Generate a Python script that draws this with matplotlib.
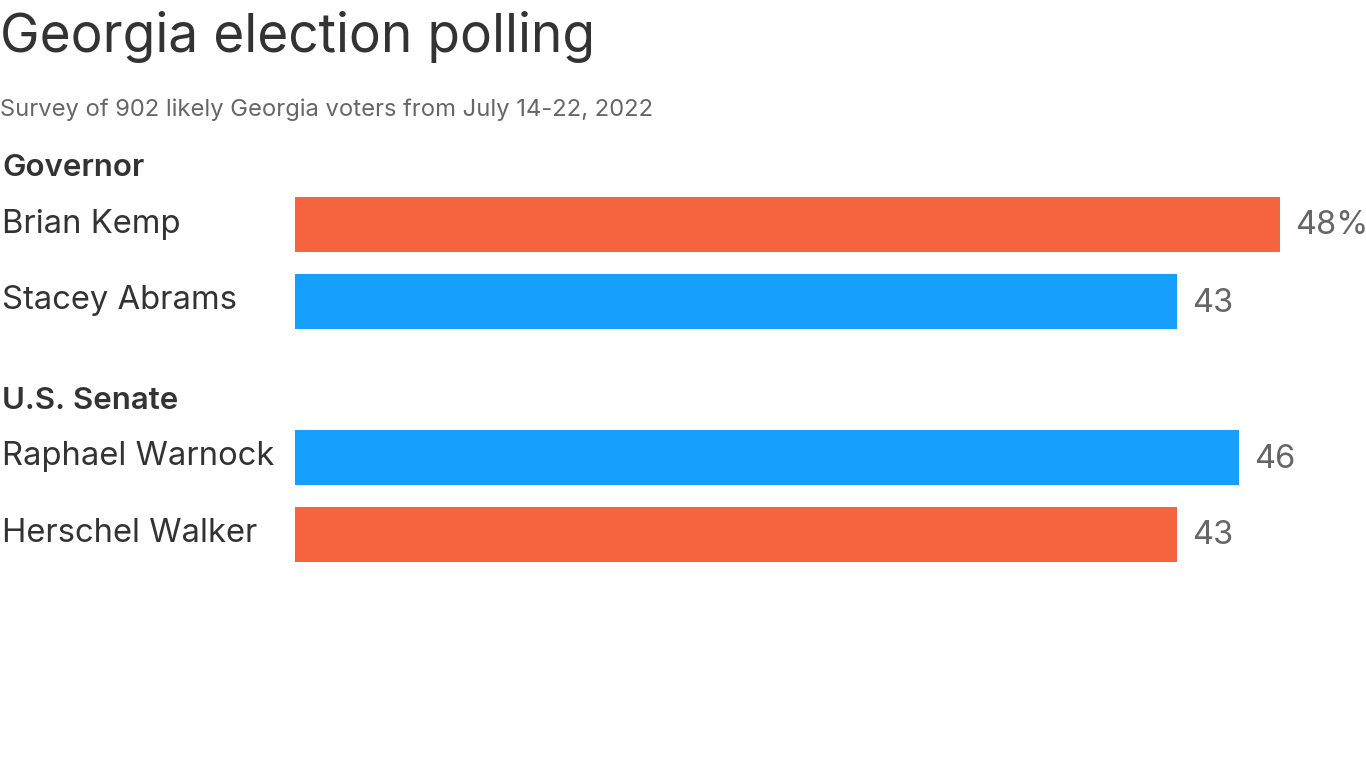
import matplotlib.pyplot as plt

plt.rcParams['font.family'] = ['Inter', 'DejaVu Sans']

groups = ["Governor", "U.S. Senate"]
candidates = [["Brian Kemp", "Stacey Abrams"], ["Raphael Warnock", "Herschel Walker"]]
values = [[48, 43], [46, 43]]
parties = [["R", "D"], ["D", "R"]]
party_colors = {"R": "#F6633F", "D": "#179FFD"}

W, H = 1366, 768
fig = plt.figure(figsize=(W / 100, H / 100), dpi=100)
fig.patch.set_facecolor("white")

# bars axes in pixel-ish units: x from bar start to right edge, y in pixels from top
x0 = 295
ax = fig.add_axes([x0 / W, 0, 1 - x0 / W, 1])
px_per_unit = (1280 - x0) / 48
ax.set_xlim(0, (W - x0) / px_per_unit)
ax.set_ylim(H, 0)
ax.axis("off")

bar_h = 55
row_step = 77
group_gap = 156
header_offset = 56
first_center = 224

center = first_center
for g, name in enumerate(groups):
    fig.text(2 / W, 1 - (center - header_offset) / H, name, fontsize=22.5,
             fontweight="semibold", color="#333333", va="center", ha="left")
    for i, (cand, val, p) in enumerate(zip(candidates[g], values[g], parties[g])):
        ax.barh(center, val, height=bar_h, color=party_colors[p], edgecolor="none")
        fig.text(2 / W, 1 - center / H, cand, fontsize=23.6, color="#333333",
                 va="center", ha="left")
        label = f"{val}%" if (g == 0 and i == 0) else f"{val}"
        ax.text(val + 15 / px_per_unit, center + 2, label, fontsize=23.5, color="#666666",
                va="center", ha="left", clip_on=False)
        if i < len(candidates[g]) - 1:
            center += row_step
    center += group_gap

fig.text(0, 1 - 37 / H, "Georgia election polling", fontsize=38.3, color="#333333",
         va="center", ha="left")
fig.text(0, 1 - 110 / H, "Survey of 902 likely Georgia voters from July 14-22, 2022",
         fontsize=17.1, color="#666666", va="center", ha="left")

fig.savefig("out.png", dpi=100, facecolor="white")
